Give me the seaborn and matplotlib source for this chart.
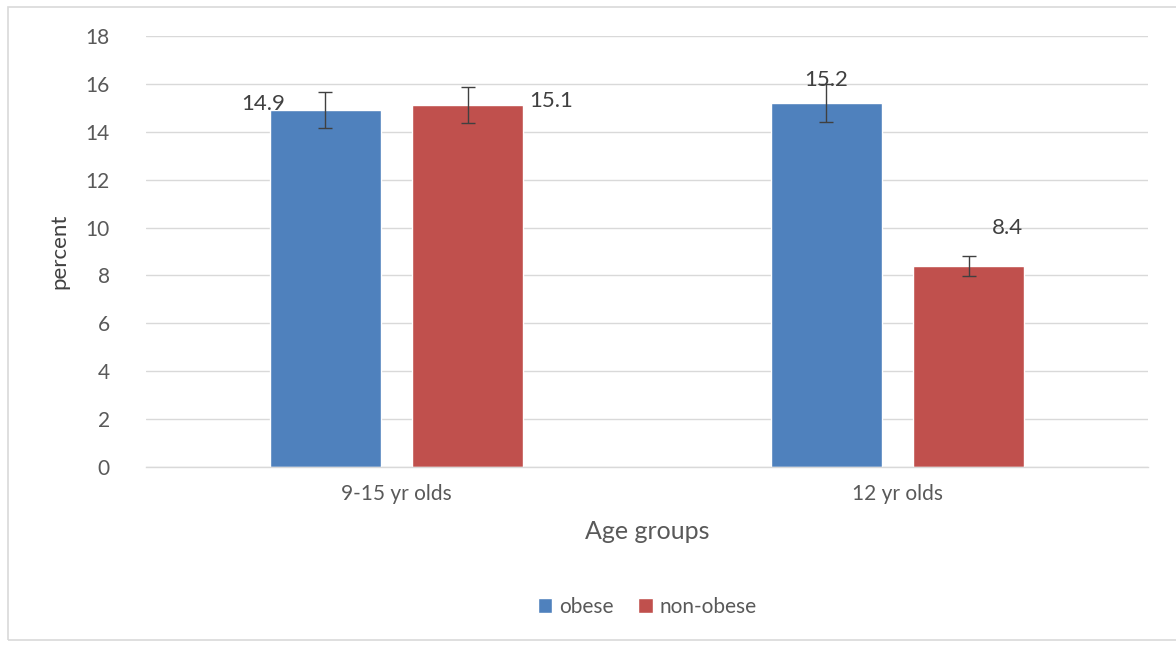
import matplotlib
matplotlib.use("Agg")
import matplotlib.pyplot as plt
import seaborn as sns
import pandas as pd
from matplotlib.patches import Rectangle

categories = ["9-15 yr olds", "12 yr olds"]
series = ["obese", "non-obese"]
obese = [14.9, 15.2]
non_obese = [15.1, 8.4]
obese_err = [0.75, 0.8]
non_obese_err = [0.75, 0.42]
yticks = [0, 2, 4, 6, 8, 10, 12, 14, 16, 18]

df = pd.DataFrame({
    "group": categories * 2,
    "kind": [series[0]] * 2 + [series[1]] * 2,
    "value": obese + non_obese,
})
errs = [obese_err, non_obese_err]

sns.set_style("white")
plt.rcParams["font.family"] = ["Lato", "DejaVu Sans"]
grey = "#595959"

fig = plt.figure(figsize=(11.76, 6.45), dpi=100)
ax = fig.add_axes([146/1176, 1-467/645, (1148-146)/1176, (467-36)/645])

palette = {"obese": "#4f81bd", "non-obese": "#c0504d"}
sns.barplot(data=df, x="group", y="value", hue="kind", palette=palette,
            order=categories, hue_order=series, width=0.567, gap=0.22,
            saturation=1, errorbar=None, ax=ax, zorder=2)

for cont, err in zip(ax.containers, errs):
    xs = [p.get_x() + p.get_width()/2 for p in cont.patches]
    ys = [p.get_height() for p in cont.patches]
    ax.errorbar(xs, ys, yerr=err, fmt="none", ecolor="#404040", elinewidth=1,
                capsize=5, capthick=1, zorder=3)

c0 = [p for p in ax.containers[0].patches]
c1 = [p for p in ax.containers[1].patches]
lab_kw = dict(fontsize=16, color="#404040")
p = c0[0]
ax.text(p.get_x() + 0.03, obese[0] + 0.25, f"{obese[0]:.1f}", ha="right", va="center", **lab_kw)
p = c1[0]
ax.text(p.get_x() + p.get_width() + 0.012, non_obese[0] + 0.2, f"{non_obese[0]:.1f}", ha="left", va="center", **lab_kw)
p = c0[1]
ax.text(p.get_x() + p.get_width()/2, obese[1] + 0.95, f"{obese[1]:.1f}", ha="center", va="center", **lab_kw)
p = c1[1]
ax.text(p.get_x() + p.get_width()*0.85, non_obese[1] + 1.6, f"{non_obese[1]:.1f}", ha="center", va="center", **lab_kw)

ax.set_ylim(0, 18)
ax.set_xlim(-0.5, 1.5)
ax.set_yticks(yticks)
ax.set_yticklabels([str(t) for t in yticks])
ax.yaxis.grid(True, color="#d9d9d9", linewidth=1, zorder=0)
ax.set_axisbelow(True)
for s in ["top", "right", "left"]:
    ax.spines[s].set_visible(False)
ax.spines["bottom"].set_color("#d9d9d9")
ax.spines["bottom"].set_linewidth(1)
ax.tick_params(axis="y", length=0, pad=26, labelsize=15, labelcolor=grey)
ax.tick_params(axis="x", length=0, pad=12, labelsize=15, labelcolor=grey)
ax.set_xlabel("Age groups", fontsize=18, color=grey, labelpad=12)
ax.set_ylabel("percent", fontsize=16, color="#404040", labelpad=12)

leg = ax.legend(loc="center", bbox_to_anchor=(0.5, (467-607)/431), bbox_transform=ax.transAxes,
                ncol=2, frameon=False, fontsize=15, handlelength=0.7, handleheight=0.7,
                handletextpad=0.3, columnspacing=1.2)
for t in leg.get_texts():
    t.set_color(grey)

fig.patches.append(Rectangle((8/1176, 1-640/645), 1.2, (640-7)/645, transform=fig.transFigure,
                             fill=False, edgecolor="#d9d9d9", linewidth=1.2))

fig.savefig("out.png", dpi=100)
